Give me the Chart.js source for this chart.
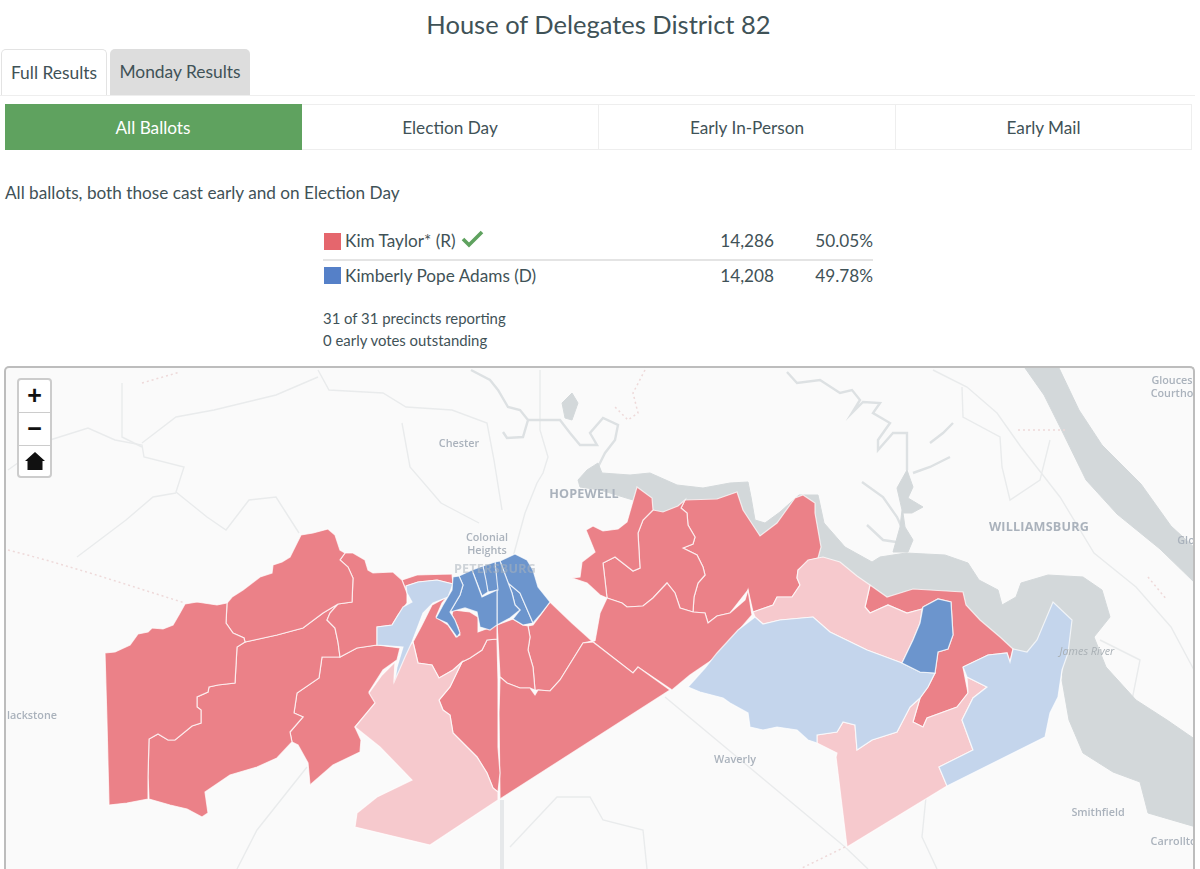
<!DOCTYPE html>
<html><head><meta charset="utf-8">
<script src="https://cdn.jsdelivr.net/npm/chart.js@4"></script>
<style>
html,body{margin:0;padding:0;background:#fff;width:1200px;height:869px;overflow:hidden;font-family:Lato,"Open Sans",sans-serif;color:#3f5257}
.a{position:absolute;white-space:nowrap}
.title{left:0;width:1197px;top:7px;text-align:center;font-size:25.5px;line-height:34px}
.tab{top:49px;height:46px;box-sizing:border-box;border-radius:5px 5px 0 0;text-align:center;font-size:17.4px;line-height:46px}
.btn{top:104px;height:46px;box-sizing:border-box;text-align:center;font-size:17.2px;line-height:45px;border:1px solid #eee;border-left:none}
.sw{width:17px;height:17px}
.t{font-size:17.2px;line-height:22px}
.r{text-align:right}
.n{font-size:14.9px;line-height:20px}
#map{left:4px;top:366px;width:1191px;height:503px;overflow:hidden;box-sizing:border-box;border:2px solid #bdbdbd;border-bottom:none;border-radius:5px 5px 0 0;background:#fafafa}
#map canvas{position:absolute;left:0;top:0}
.lb{position:absolute;color:#aab2bc;font:600 10.8px "Open Sans",sans-serif;white-space:nowrap;transform:translate(-50%,-50%);text-align:center;line-height:12.5px}
.big{font-size:12.6px;font-weight:700;letter-spacing:.2px}
.ctrl{position:absolute;left:11px;top:10px;width:35px;height:100px;box-sizing:border-box;background:#fff;border:2px solid #ccc;border-radius:4px;color:#111}
.ctrl div{height:32px;text-align:center;font:700 25px/30px Arial,"Liberation Sans",sans-serif;border-bottom:1px solid #ccc}
.ctrl div:last-child{border:none}
.ctrl svg{display:block;margin:5px auto 0}
</style></head><body>
<div class="a title">House of Delegates District 82</div>
<div class="a tab" style="left:1px;width:106px;border:1px solid #e3e3e3;border-bottom:none;">Full Results</div>
<div class="a tab" style="left:110px;width:140px;background:#ddd;">Monday Results</div>
<div class="a" style="left:0;top:95px;width:1195px;height:1px;background:#eee"></div>
<div class="a btn" style="left:5px;width:297px;background:#5fa25f;color:#fff;border-color:#5fa25f">All Ballots</div>
<div class="a btn" style="left:302px;width:297px">Election Day</div>
<div class="a btn" style="left:599px;width:297px">Early In-Person</div>
<div class="a btn" style="left:896px;width:296px">Early Mail</div>
<div class="a t" style="left:5px;top:182px">All ballots, both those cast early and on Election Day</div>

<div class="a sw" style="left:324px;top:233px;background:#e5666d"></div>
<div class="a t" style="left:345px;top:230px">Kim Taylor* (R)</div>
<svg class="a" style="left:461px;top:229px" width="23" height="20" viewBox="0 0 23 20"><path d="M2 10 L8 16 L21 3" fill="none" stroke="#5fa25f" stroke-width="3.6"/></svg>
<div class="a t r" style="left:674px;width:100px;top:230px">14,286</div>
<div class="a t r" style="left:773px;width:100px;top:230px">50.05%</div>
<div class="a" style="left:323px;top:259px;width:550px;height:2px;background:#e4e4e4"></div>
<div class="a sw" style="left:324px;top:267px;background:#5580c8"></div>
<div class="a t" style="left:345px;top:265px">Kimberly Pope Adams (D)</div>
<div class="a t r" style="left:674px;width:100px;top:265px">14,208</div>
<div class="a t r" style="left:773px;width:100px;top:265px">49.78%</div>
<div class="a n" style="left:323px;top:308px">31 of 31 precincts reporting</div>
<div class="a n" style="left:323px;top:330px">0 early votes outstanding</div>

<div class="a" id="map"><canvas id="c" width="1187" height="501"></canvas>
<div class="ctrl"><div>+</div><div>&#8722;</div><div><svg width="20" height="20" viewBox="0 0 20 20"><path d="M10 1 L20 10 L17.5 10 L17.5 19 L2.5 19 L2.5 10 L0 10 Z" fill="#111"/></svg></div></div>
</div>

<script>
// ---- map shapes, in reference map units ----
const jamesRiver=[[578,480],[587,470],[598,463],[602,473],[630,475],[650,473],[677,485],[703,488],[730,483],[748,482],[751,497],[755,520],[765,523],[780,512],[799,495],[818,495],[824,523],[845,547],[872,562],[880,557],[906,553],[945,555],[968,563],[979,580],[998,590],[1002,605],[1016,597],[1021,583],[1048,575],[1083,577],[1102,590],[1110,617],[1094,637],[1106,667],[1136,700],[1167,720],[1196,740],[1196,827],[1148,813],[1140,782],[1113,772],[1083,753],[1069,720],[1062,680],[1066,640],[1030,655],[1000,645],[880,595],[830,570],[800,555],[760,545],[700,525],[640,510],[633,500],[600,490],[580,487]];
const yorkRiver=[[1025,368],[1059,368],[1079,410],[1102,445],[1141,484],[1171,526],[1196,549],[1196,584],[1160,549],[1117,514],[1086,480],[1063,433],[1044,395]];
const creekLake=[[907,470],[913,487],[908,498],[923,507],[912,513],[903,513],[905,527],[913,540],[908,552],[893,552],[900,527],[902,510],[897,488]];
const lakeHopewell=[[562,403],[572,393],[578,403],[572,420],[565,418]];

const roadNorth=[[318,370],[329,390],[383,393],[406,407],[452,410],[487,423],[494,460],[502,510]];
const riverWest=[[8,470],[50,440],[88,428],[115,440],[142,445],[144,457],[184,467],[176,492],[207,517],[226,530],[249,500],[276,497],[299,533]];
const creekSouth=[[77,557],[126,520],[153,497],[176,493]];
const creekNorth=[[122,383],[122,437],[142,447]];
const roadWest=[[142,443],[176,417],[214,410],[276,395],[318,377]];
const creekMid=[[402,423],[410,467],[441,503],[479,523]];
const riverCurl=[[471,370],[490,380],[498,390],[508,407],[520,410],[528,420],[523,437],[507,438],[503,432]];
const riverLoop=[[528,420],[560,420],[570,433],[580,445],[597,445],[590,433],[603,418],[618,425],[615,440],[605,453],[598,467],[583,477]];
const roadHopewell=[[540,370],[540,430],[548,457],[543,473],[537,483],[525,513],[513,557]];
const riverChickahominy=[[787,372],[797,383],[820,380],[840,393],[852,390],[860,400],[852,413],[863,402],[880,403],[873,413],[890,423],[878,440],[878,450],[893,433],[907,433],[907,470]];
const reservoirArm=[[930,443],[943,433],[953,423]];
const reservoirCreek=[[913,473],[930,467],[950,457]];
const creekRiverSide=[[862,482],[883,497],[897,517],[903,530]];
const creekLower=[[867,525],[883,540],[903,543]];
const interstateEast=[[933,370],[967,387],[997,413],[1021,447],[1060,497],[1094,553],[1136,587],[1171,627],[1194,670]];
const roadWilliamsburg=[[962,387],[963,417],[1000,437],[1002,467],[1010,500],[1040,480],[1050,440]];
const roadWaverly=[[665,697],[845,847],[868,869]];
const roadSouthEast=[[926,797],[922,837],[937,869]];
const riverSouth=[[510,847],[557,797],[590,797],[603,820],[643,830],[647,869]];
const roadSouthWest=[[307,767],[257,830],[237,869]];
const roadSouthMid=[[502,800],[502,869]];
const creekEast=[[1100,640],[1140,660],[1130,710],[1160,735]];
const countyLineWest=[[90,573],[185,603]];
const countyLineFar=[[8,550],[46,560],[90,573]];
const countyLineTop=[[142,383],[180,372]];
const countyLineSouth=[[845,847],[800,869]];
const countyLineEast=[[1018,430],[1067,430]];
const countyLineFarEast=[[1148,577],[1167,600]];
const countyLineHopewell=[[645,370],[633,393],[638,413],[628,420],[613,405]];

const precinctFarWest=[[105,653],[115,652],[130,645],[138,634],[148,632],[152,628],[163,629],[173,625],[180,613],[185,604],[197,602],[217,605],[227,603],[226,623],[233,633],[244,638],[245,642],[237,647],[235,683],[218,685],[209,687],[208,692],[197,697],[197,707],[201,710],[201,723],[192,726],[175,740],[168,740],[158,734],[149,739],[148,777],[148,799],[127,803],[109,805],[107,723]];
const precinctNorthWest=[[227,603],[232,597],[243,590],[260,577],[272,573],[273,565],[282,562],[290,557],[297,543],[301,535],[313,533],[328,529],[335,535],[340,550],[345,553],[340,560],[348,567],[353,578],[352,602],[338,604],[323,613],[303,628],[277,635],[245,642],[244,638],[233,633],[226,623]];
const precinctNorthMid=[[345,553],[353,553],[365,560],[368,570],[373,573],[393,572],[402,580],[407,593],[407,603],[398,615],[392,625],[377,627],[377,645],[357,648],[340,657],[338,642],[335,628],[327,620],[330,613],[338,604],[352,602],[353,578],[348,567],[340,560]];
const precinctCentralWest=[[245,642],[277,635],[303,628],[323,613],[338,604],[330,613],[327,620],[335,628],[338,642],[340,657],[322,657],[319,678],[297,693],[294,713],[303,717],[290,732],[292,742],[277,758],[257,767],[230,775],[205,792],[208,813],[202,817],[187,809],[170,805],[149,799],[148,777],[149,739],[158,734],[168,740],[175,740],[192,726],[201,723],[201,710],[197,707],[197,697],[208,692],[209,687],[218,685],[235,683],[237,647]];
const precinctSouthWest=[[340,657],[357,648],[377,645],[400,648],[397,660],[383,670],[369,692],[377,701],[355,727],[361,740],[360,752],[333,765],[310,785],[308,763],[298,745],[292,742],[290,732],[303,717],[294,713],[297,693],[319,678],[322,657]];
const precinctRiverStrip=[[402,580],[417,575],[452,574],[453,584],[437,580],[418,582],[406,586],[407,593]];
const precinctEttrickSouth=[[436,617],[448,625],[456,637],[460,635],[458,627],[452,615],[453,610],[470,612],[478,617],[478,632],[497,625],[497,639],[487,640],[482,650],[470,658],[462,662],[453,670],[439,678],[432,665],[418,663],[413,642],[422,625],[432,605],[447,597],[442,603]];
const precinctVertical=[[497,639],[498,680],[498,713],[498,747],[500,773],[498,792],[493,788],[487,773],[477,757],[465,745],[453,733],[450,715],[443,710],[439,700],[450,687],[462,662],[470,658],[482,650],[487,640]];
const precinctTriangle=[[500,677],[507,683],[520,688],[530,688],[535,695],[538,690],[550,691],[560,680],[583,643],[593,642],[633,673],[638,667],[670,690],[500,799],[499,713]];
const precinctMidSouth=[[497,625],[513,619],[523,625],[528,626],[530,637],[528,650],[533,667],[535,690],[530,688],[520,688],[507,683],[500,677],[498,640]];
const precinctMidEast=[[528,626],[533,625],[542,613],[550,602],[572,623],[592,641],[583,643],[560,680],[550,691],[538,690],[535,690],[533,667],[528,650],[530,637]];
const precinctPrinceSouth=[[595,641],[600,613],[607,598],[622,603],[627,607],[643,606],[653,598],[667,583],[675,593],[680,608],[693,612],[705,613],[708,623],[717,616],[730,613],[745,600],[748,590],[752,615],[715,658],[690,675],[672,690],[638,667],[633,673],[592,641]];
const precinctHopewellLobe=[[572,578],[580,577],[582,562],[595,552],[586,530],[593,526],[603,531],[618,529],[627,522],[637,487],[652,498],[653,510],[643,520],[638,533],[640,568],[633,571],[615,557],[603,563],[605,580],[607,598],[600,595],[587,583]];
const precinctPrinceCentre=[[653,510],[663,512],[678,506],[685,500],[681,508],[687,513],[688,525],[695,537],[693,544],[683,548],[697,555],[703,567],[705,575],[698,583],[694,597],[693,612],[680,608],[675,593],[667,583],[653,598],[643,606],[627,607],[622,603],[607,598],[603,563],[615,557],[633,571],[640,568],[638,533],[643,520]];
const precinctPrinceEast=[[685,500],[717,499],[737,492],[743,510],[760,536],[777,523],[795,498],[803,495],[815,503],[815,513],[821,547],[818,558],[810,560],[798,570],[797,578],[800,585],[792,597],[777,597],[773,605],[753,612],[748,590],[730,613],[717,616],[708,623],[705,613],[693,612],[694,597],[698,583],[705,575],[703,567],[697,555],[683,548],[693,544],[695,537],[688,525],[687,513],[681,508]];
const precinctSurryTop=[[870,585],[887,597],[913,589],[963,592],[966,605],[980,620],[1000,637],[1013,649],[1010,662],[1007,653],[988,655],[963,667],[968,693],[957,707],[927,718],[923,727],[913,722],[920,698],[928,687],[935,673],[938,652],[948,649],[953,635],[951,602],[938,599],[923,607],[922,609],[907,613],[888,605],[870,613],[865,607]];

const precinctSouthPale=[[413,642],[418,663],[432,665],[439,678],[453,670],[462,662],[450,687],[439,700],[443,710],[450,715],[453,733],[465,745],[477,757],[487,773],[493,788],[498,792],[498,800],[430,845],[355,827],[357,813],[377,797],[412,780],[380,747],[355,727],[375,703],[369,693],[382,675],[395,662],[394,680],[402,653]];
const precinctRiverPale=[[753,612],[773,605],[777,597],[792,597],[800,585],[797,578],[798,570],[808,560],[823,557],[840,562],[857,576],[870,585],[865,607],[870,613],[888,605],[907,613],[922,609],[920,623],[913,640],[902,663],[867,650],[830,632],[813,617],[780,620],[763,624],[755,617]];
const precinctSurrySouthPale=[[968,693],[967,677],[987,687],[973,698],[962,720],[973,750],[939,767],[947,786],[847,847],[836,757],[837,753],[817,743],[817,735],[837,732],[843,722],[855,725],[857,750],[872,740],[897,732],[910,707],[920,698],[913,722],[923,727],[927,718],[957,707]];

const precinctEttrickLight=[[406,586],[418,582],[437,580],[453,584],[448,597],[433,603],[423,613],[412,642],[405,657],[395,680],[397,667],[403,647],[377,645],[377,627],[392,625],[403,607],[412,602],[407,593]];
const precinctSurryWestLight=[[688,687],[705,668],[717,653],[738,630],[755,617],[763,624],[780,620],[813,617],[830,632],[867,650],[902,663],[920,672],[935,673],[928,687],[920,698],[910,707],[897,732],[872,740],[857,750],[855,725],[843,722],[837,732],[817,735],[817,743],[808,740],[797,730],[777,727],[763,730],[750,727],[748,713],[730,703],[723,698],[700,692]];
const precinctSurryEastLight=[[963,667],[988,655],[1007,653],[1010,662],[1013,649],[1027,652],[1037,640],[1053,602],[1072,620],[1068,653],[1062,670],[1058,697],[1050,713],[1045,737],[947,786],[939,767],[973,750],[962,720],[973,698],[987,687],[967,677]];

const wardLeft=[[436,618],[443,605],[452,590],[453,577],[459,576],[463,585],[460,595],[450,612],[455,620],[460,633],[457,637],[447,623]];
const wardTwo=[[459,576],[472,570],[482,597],[497,590],[497,625],[490,630],[480,627],[477,612],[465,608],[450,612],[460,595],[463,585]];
const wardThree=[[472,570],[483,566],[486,580],[488,592],[482,596]];
const wardFour=[[483,566],[495,562],[498,590],[488,592],[485,578]];
const wardFive=[[495,562],[500,561],[512,593],[515,605],[520,610],[510,618],[497,625],[497,590]];
const wardSix=[[500,561],[515,554],[527,560],[533,570],[538,587],[550,602],[540,615],[533,623],[520,593],[508,583]];
const wardSeven=[[508,583],[520,593],[533,623],[523,625],[513,619],[520,610],[515,605],[512,593]];
const surryBlue=[[923,607],[938,599],[951,602],[953,635],[948,649],[938,652],[935,673],[920,672],[902,663],[913,640],[920,623]];

const waterShapes=[jamesRiver,yorkRiver,creekLake,lakeHopewell];
const greyLines=[roadNorth,riverWest,creekSouth,creekNorth,roadWest,creekMid,roadHopewell,interstateEast,roadWilliamsburg,roadWaverly,roadSouthEast,riverSouth,roadSouthWest,creekEast];
const riverLines=[riverCurl,riverLoop,riverChickahominy,reservoirArm,reservoirCreek,creekRiverSide,creekLower];
const thickLines=[roadSouthMid];
const countyLines=[countyLineWest,countyLineFar,countyLineTop,countyLineSouth,countyLineEast,countyLineFarEast,countyLineHopewell];
const strongR=[precinctFarWest,precinctNorthWest,precinctNorthMid,precinctCentralWest,precinctSouthWest,precinctRiverStrip,precinctEttrickSouth,precinctVertical,precinctTriangle,precinctMidSouth,precinctMidEast,precinctPrinceSouth,precinctHopewellLobe,precinctPrinceCentre,precinctPrinceEast,precinctSurryTop];
const leanR=[precinctSouthPale,precinctRiverPale,precinctSurrySouthPale];
const leanD=[precinctEttrickLight,precinctSurryWestLight,precinctSurryEastLight];
const strongD=[wardLeft,wardTwo,wardThree,wardFour,wardFive,wardSix,wardSeven,surryBlue];

const mapLabels=[["Chester",459,443,0],["HOPEWELL",584,494,1],["Colonial<br>Heights",487,543,0],["PETERSBURG",495,569,1],["WILLIAMSBURG",1039,527,1],["Waverly",735,759,0],["lackstone",32,715,0],["Smithfield",1098,812,0],["Carrollton",1177,841,0],["Glouces<br>Courtho",1172,386,0],["Glo",1186,540,0]];

const asPts=a=>a.map(([x,y])=>({x,y}));
const closed=a=>asPts(a.concat([a[0]]));
function shape(a,fill,stroke,w){return {data:closed(a),backgroundColor:fill,polyFill:fill,borderColor:stroke,borderWidth:w,showLine:true,pointRadius:0,fill:false}}
function line(a,color,w,dash){return {data:asPts(a),borderColor:color,borderWidth:w,borderDash:dash||[],showLine:true,pointRadius:0,fill:false}}

// Chart.js paints the first dataset last, so the list runs from top layer to bottom layer.
const datasets=[
 ...strongD.map(a=>shape(a,'#6c95cd','rgba(255,255,255,.72)',1.2)),
 ...leanD.map(a=>shape(a,'#c4d5ec','rgba(255,255,255,.72)',1.2)),
 ...leanR.map(a=>shape(a,'#f6c9cd','rgba(255,255,255,.72)',1.2)),
 ...strongR.map(a=>shape(a,'#eb8188','rgba(255,255,255,.72)',1.2)),
 ...countyLines.map(a=>line(a,'#eed9d9',1.5,[2,3])),
 ...thickLines.map(a=>line(a,'#e6e8ea',4)),
 ...waterShapes.map(a=>shape(a,'#d3d8da','#d3d8da',1)),
 ...riverLines.map(a=>line(a,'#dde1e3',2.4)),
 ...greyLines.map(a=>line(a,'#e9ebec',1.4)),
];

const polygonFill={id:'polygonFill',beforeDatasetDraw(chart,args){
  const ds=chart.data.datasets[args.index]; if(!ds.polyFill) return;
  const pts=args.meta.data, ctx=chart.ctx;
  ctx.save(); ctx.beginPath();
  pts.forEach((p,i)=> i?ctx.lineTo(p.x,p.y):ctx.moveTo(p.x,p.y));
  ctx.closePath(); ctx.fillStyle=ds.polyFill; ctx.fill(); ctx.restore();
}};

new Chart(document.getElementById('c'),{type:'scatter',data:{datasets},plugins:[polygonFill],
 options:{responsive:false,animation:false,devicePixelRatio:1,events:[],layout:{padding:0},
  plugins:{legend:{display:false},tooltip:{enabled:false},title:{display:false}},
  scales:{x:{type:'linear',min:6,max:1193,display:false},y:{type:'linear',min:368,max:869,reverse:true,display:false}}}});

const mapEl=document.getElementById('map');
mapLabels.forEach(([t,x,y,big])=>{const d=document.createElement('div');d.className='lb'+(big?' big':'');d.innerHTML=t;d.style.left=(x-6)+'px';d.style.top=(y-368)+'px';
 if(t==='PETERSBURG')d.style.color='rgba(170,178,188,.55)';mapEl.appendChild(d)});
const jr=document.createElement('div');jr.className='lb';jr.textContent='James River';jr.style.cssText='left:1081px;top:283px;font-style:italic;font-weight:400;color:#a9b0b5';mapEl.appendChild(jr);
</script>
</body></html>
